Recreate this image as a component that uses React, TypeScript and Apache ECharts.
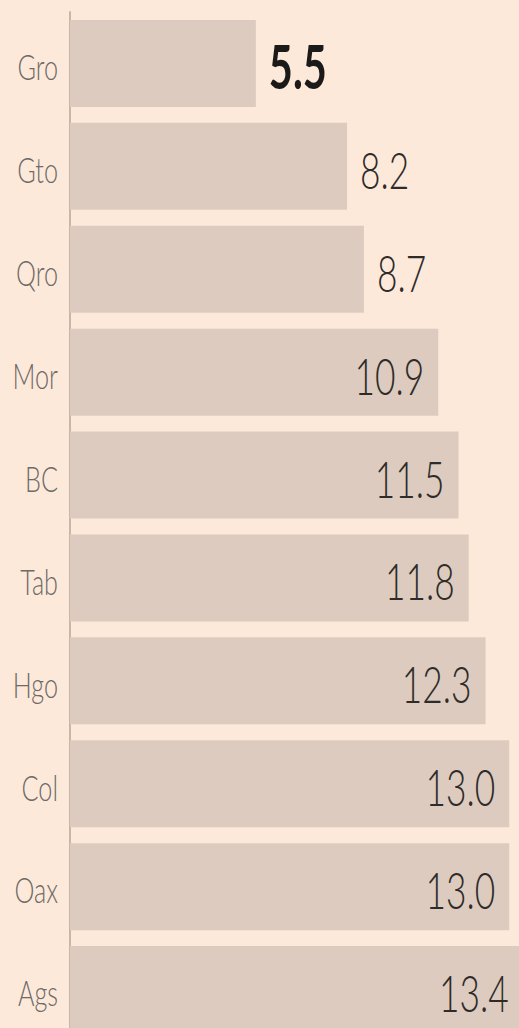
import React, { useEffect, useRef } from "react";
import * as echarts from "echarts";

const categories = ["Gro", "Gto", "Qro", "Mor", "BC", "Tab", "Hgo", "Col", "Oax", "Ags"];
const values = [5.5, 8.2, 8.7, 10.9, 11.5, 11.8, 12.3, 13.0, 13.0, 13.4];
const highlighted = ["Gro"];
const insideThreshold = 10;

const FONT = 'Lato, "Open Sans", sans-serif';

export default function App() {
  const ref = useRef<HTMLDivElement>(null);
  useEffect(() => {
    if (!ref.current) return;
    const chart = echarts.init(ref.current, null, { renderer: "svg" });
    chart.setOption({
      animation: false,
      backgroundColor: "#fde9da",
      grid: { left: 70, right: 0, top: 12, bottom: 0, containLabel: false },
      xAxis: {
        type: "value",
        min: 0,
        max: 14,
        show: false,
      },
      yAxis: {
        type: "category",
        data: categories,
        inverse: true,
        axisLine: { show: true, lineStyle: { color: "#c7b6a9", width: 2 } },
        axisTick: { show: false },
        axisLabel: { show: false },
      },
      series: [
        {
          type: "bar",
          data: values,
          barCategoryGap: "15.5%",
          itemStyle: { color: "#dccbbe" },
          silent: true,
          z: 1,
        },
        {
          type: "custom",
          data: values.map((v, i) => [v, i]),
          encode: { x: 0, y: 1 },
          z: 5,
          silent: true,
          renderItem: (params: any, api: any) => {
            const v = api.value(0);
            const idx = api.value(1);
            const end = api.coord([v, idx]);
            const start = api.coord([0, idx]);
            const name = categories[idx];
            const hl = highlighted.includes(name);
            const inside = v >= insideThreshold;
            return {
              type: "group",
              children: [
                {
                  type: "text",
                  x: inside ? end[0] - 14 : end[0] + 13,
                  y: end[1] + 2,
                  scaleX: 0.68,
                  style: {
                    text: v.toFixed(1),
                    align: inside ? "right" : "left",
                    verticalAlign: "middle",
                    fontFamily: FONT,
                    fontSize: hl ? 61 : 52,
                    fontWeight: hl ? 700 : 300,
                    fill: hl ? "#1c1a19" : "#2e2b29",
                  },
                },
                {
                  type: "text",
                  x: start[0] - 12,
                  y: start[1] + 3,
                  scaleX: 0.72,
                  style: {
                    text: name,
                    align: "right",
                    verticalAlign: "middle",
                    fontFamily: FONT,
                    fontSize: 35,
                    fontWeight: 300,
                    fill: "#6e6a67",
                  },
                },
              ],
            };
          },
        },
      ],
    });
    return () => chart.dispose();
  }, []);
  return (
    <div
      style={{
        position: "fixed",
        left: 0,
        top: 0,
        width: 519,
        height: 1028,
        overflow: "hidden",
        background: "#fde9da",
      }}
    >
      <div ref={ref} style={{ width: 543, height: 1041 }} />
    </div>
  );
}
